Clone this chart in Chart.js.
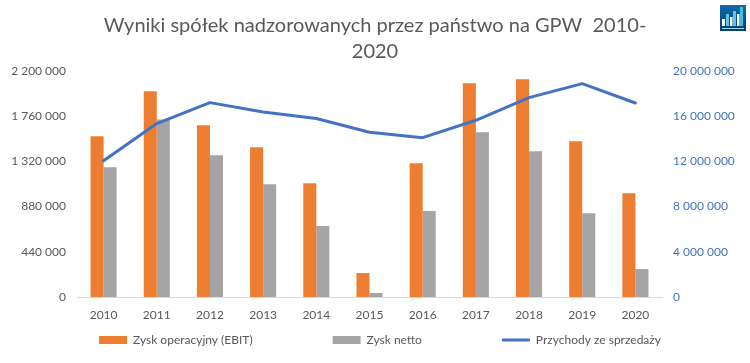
<!DOCTYPE html>
<html><head><meta charset="utf-8">
<script src="https://cdn.jsdelivr.net/npm/chart.js@4"></script>
<style>
html,body{margin:0;padding:0;background:#fff}
#wrap{position:relative;width:750px;height:363px}
#icon{position:absolute;left:720px;top:5px}
</style></head><body>
<div id="wrap"><canvas id="c" width="750" height="363"></canvas>
<svg id="icon" width="26" height="26" viewBox="0 0 26 26" aria-hidden="true">
<defs><linearGradient id="g" x1="0" y1="0" x2="0" y2="1"><stop offset="0" stop-color="#0f6cab"/><stop offset="1" stop-color="#0b3a6b"/></linearGradient></defs>
<rect width="26" height="26" fill="url(#g)"/>
<rect x="2" y="14" width="3" height="7" fill="#fff"/><rect x="6" y="9" width="3" height="12" fill="#5cc8e6"/>
<rect x="10" y="12" width="2.5" height="9" fill="#fff"/><rect x="13" y="6" width="3" height="15" fill="#5cc8e6"/>
<rect x="17" y="9" width="2.5" height="12" fill="#fff"/><rect x="20" y="2" width="3" height="19" fill="#3fc0de"/>
<rect x="2" y="23" width="22" height="1" fill="#8fe0ee"/></svg></div>
<script>
const titleLines=["Wyniki spółek nadzorowanych przez państwo na GPW  2010-","2020"];
const years=["2010","2011","2012","2013","2014","2015","2016","2017","2018","2019","2020"];
const ebit=[1565000,2002000,1672000,1458000,1108000,233000,1302000,2080000,2119000,1516000,1011000];
const netto=[1264000,1727000,1380000,1098000,690000,39000,836000,1604000,1419000,816000,272000];
const przychody=[12050000,15350000,17200000,16380000,15790000,14580000,14100000,15640000,17640000,18880000,17170000];
const fmt=v=>String(v).replace(/\B(?=(\d{3})+$)/g," ");
const font="Lato, 'Open Sans', sans-serif";
const LEGEND_PAD=80;
const legendRowPlugin={id:'legendRow',beforeLayout(chart){
  const l=chart.legend; if(!l||l._wrapped) return; l._wrapped=true;
  const fit=l.fit, draw=l._draw;
  l.fit=function(){fit.call(this);this.height=24;};
  l._draw=function(){const c=this.ctx;c.save();c.translate(5,18-LEGEND_PAD-7);draw.call(this);c.restore();};
}};
new Chart(document.getElementById('c'),{
 plugins:[legendRowPlugin],
 data:{labels:years,datasets:[
  {type:'line',label:'Przychody ze sprzedaży',data:przychody,yAxisID:'y2',borderColor:'#4472C4',backgroundColor:'#4472C4',borderWidth:3,pointRadius:0,tension:0,borderCapStyle:'round',borderJoinStyle:'round',order:0},
  {type:'bar',label:'Zysk operacyjny (EBIT)',data:ebit,yAxisID:'y',backgroundColor:'#ED7D31',barPercentage:1,categoryPercentage:0.49,order:1},
  {type:'bar',label:'Zysk netto',data:netto,yAxisID:'y',backgroundColor:'#A5A5A5',barPercentage:1,categoryPercentage:0.49,order:2}
 ]},
 options:{responsive:false,animation:false,
  layout:{padding:{top:13,bottom:16,left:0,right:0}},
  plugins:{
   title:{display:true,text:titleLines,color:'#595959',font:{family:font,size:20,weight:'normal',lineHeight:1.3},padding:{top:0,bottom:6}},
   tooltip:{enabled:false},
   legend:{position:'bottom',labels:{
     usePointStyle:true,pointStyleWidth:28,boxHeight:8,padding:LEGEND_PAD,color:'#595959',font:{family:font,size:12},
     generateLabels(ch){
       const order=[1,2,0];
       return order.map(i=>{const d=ch.data.datasets[i];return {text:d.label,fillStyle:d.backgroundColor,strokeStyle:i===0?d.borderColor:d.backgroundColor,lineWidth:i===0?3:0,pointStyle:i===0?'line':'rect',fontColor:'#595959',datasetIndex:i};});
     }}}
  },
  scales:{
   x:{grid:{display:false,drawTicks:false},border:{color:'#D9D9D9',width:1},afterFit(s){s.height=26;},ticks:{color:'#595959',font:{family:font,size:12},padding:11,maxRotation:0}},
   y:{position:'left',min:0,max:2200000,grid:{display:false,drawTicks:false},border:{display:false},
      afterFit(s){s.width=77;},
      ticks:{stepSize:440000,color:'#595959',font:{family:font,size:12},padding:11,callback:fmt}},
   y2:{position:'right',min:0,max:20000000,grid:{display:false,drawTicks:false},border:{display:false},
      afterFit(s){s.width=88;},
      ticks:{stepSize:4000000,color:'#4472C4',font:{family:font,size:12},padding:11,callback:fmt}}
  }
 }
});
</script></body></html>
